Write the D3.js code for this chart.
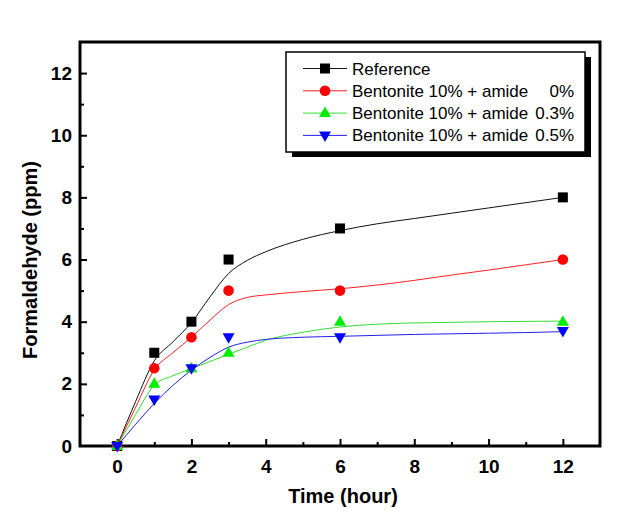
<!DOCTYPE html>
<html><head><meta charset="utf-8">
<script src="https://cdn.jsdelivr.net/npm/d3@7"></script>
<style>body{margin:0;background:#fff}svg{display:block}</style>
</head><body>
<svg id="c" width="636" height="525"></svg>
<script>
// ---- data ----
const times = [0, 1, 2, 3, 6, 12];
const seriesNames = ["Reference", "Bentonite 10% + amide", "Bentonite 10% + amide", "Bentonite 10% + amide"];
const seriesAmounts = ["", "0%", "0.3%", "0.5%"];
const referenceVals = [0, 3, 4, 6, 7, 8];
const amide0Vals = [0, 2.5, 3.5, 5, 5, 6];
const amide03Vals = [0, 2, 2.5, 3, 4, 4];
const amide05Vals = [0, 1.5, 2.5, 3.5, 3.5, 3.7];
// fitted curves
const fitX = [0, 0.5, 1, 1.5, 2, 2.5, 3, 3.5, 4, 5, 6, 7, 8, 9, 10, 11, 12];
const referenceFit = [0, 1.44, 2.74, 3.35, 3.97, 4.8, 5.55, 5.97, 6.25, 6.65, 6.93, 7.15, 7.32, 7.49, 7.66, 7.83, 8.0];
const amide0Fit = [0, 1.25, 2.45, 3.0, 3.5, 4.05, 4.55, 4.78, 4.86, 4.97, 5.06, 5.18, 5.33, 5.5, 5.66, 5.83, 6.0];
const amide03Fit = [0, 1.02, 1.96, 2.26, 2.49, 2.72, 2.95, 3.18, 3.4, 3.66, 3.83, 3.92, 3.96, 3.98, 4.0, 4.01, 4.02];
const amide05Fit = [0, 0.7, 1.37, 1.95, 2.44, 2.85, 3.18, 3.34, 3.43, 3.5, 3.53, 3.56, 3.59, 3.61, 3.63, 3.65, 3.68];
const xTicks = [0, 2, 4, 6, 8, 10, 12];
const yTicks = [0, 2, 4, 6, 8, 10, 12];

const colors = ["#000000", "#ff0000", "#00ee00", "#0000ff"];
const lineColors = ["#111111", "#ff2020", "#33dd33", "#2020ee"];
const shapes = ["square", "circle", "triUp", "triDown"];
const vals = [referenceVals, amide0Vals, amide03Vals, amide05Vals];
const fits = [referenceFit, amide0Fit, amide03Fit, amide05Fit];

const svg = d3.select("#c");
const L = 80, R = 600, T = 42, B = 446;
const x = d3.scaleLinear().domain([-1, 13]).range([L, R]);
const y = d3.scaleLinear().domain([0, 13]).range([B, T]);
const font = "'Liberation Sans', Arial, sans-serif";

// axes (ticks inside)
const xAxis = d3.axisBottom(x).tickValues(d3.range(-1, 14, 1)).tickSize(-7).tickFormat(d => xTicks.includes(d) ? d : "");
const gx = svg.append("g").attr("transform", `translate(0,${B})`).call(xAxis);
gx.selectAll(".tick line").attr("y2", d => xTicks.includes(d) ? -7 : -4).attr("stroke-width", 2);
gx.selectAll(".tick").filter(d => d === -1 || d === 13).remove();
gx.select(".domain").remove();
gx.selectAll("text").attr("y", 14).attr("font-family", font).attr("font-weight", "bold").attr("font-size", 19).attr("fill", "#000");

const yAxis = d3.axisLeft(y).tickValues(d3.range(0, 14, 1)).tickSize(-7).tickFormat(d => yTicks.includes(d) ? d : "");
const gy = svg.append("g").attr("transform", `translate(${L},0)`).call(yAxis);
gy.selectAll(".tick line").attr("x2", d => yTicks.includes(d) ? 7 : 4).attr("stroke-width", 2);
gy.selectAll(".tick").filter(d => d === 0 || d === 13).select("line").remove();
gy.select(".domain").remove();
gy.selectAll("text").attr("x", -8).attr("font-family", font).attr("font-weight", "bold").attr("font-size", 19).attr("fill", "#000");

// frame
svg.append("rect").attr("x", L).attr("y", T).attr("width", R - L).attr("height", B - T)
  .attr("fill", "none").attr("stroke", "#000").attr("stroke-width", 3);

// curves
const line = d3.line().x((d, i) => x(fitX[i])).y(d => y(d)).curve(d3.curveMonotoneX);
fits.forEach((f, k) => {
  svg.append("path").attr("d", line(f)).attr("fill", "none").attr("stroke", lineColors[k]).attr("stroke-width", 1);
});

function marker(g, shape, cx, cy, col) {
  if (shape === "square") g.append("rect").attr("x", cx - 5).attr("y", cy - 5).attr("width", 10).attr("height", 10).attr("fill", col);
  else if (shape === "circle") g.append("circle").attr("cx", cx).attr("cy", cy).attr("r", 5.3).attr("fill", col);
  else if (shape === "triUp") g.append("path").attr("d", `M${cx},${cy - 6.5}L${cx + 6},${cy + 4}L${cx - 6},${cy + 4}Z`).attr("fill", col);
  else g.append("path").attr("d", `M${cx},${cy + 6.5}L${cx + 6},${cy - 4}L${cx - 6},${cy - 4}Z`).attr("fill", col);
}

vals.forEach((v, k) => {
  const g = svg.append("g");
  v.forEach((d, i) => marker(g, shapes[k], x(times[i]), y(d), colors[k]));
});

// legend
const lg = svg.append("g");
lg.append("rect").attr("x", 292).attr("y", 57).attr("width", 299).attr("height", 100).attr("fill", "#000");
lg.append("rect").attr("x", 286).attr("y", 52).attr("width", 299).attr("height", 100).attr("fill", "#fff").attr("stroke", "#000").attr("stroke-width", 1.5);
seriesNames.forEach((nm, k) => {
  const yy = 68.5 + k * 22.3;
  lg.append("line").attr("x1", 303).attr("x2", 347).attr("y1", yy).attr("y2", yy).attr("stroke", lineColors[k]).attr("stroke-width", 1);
  marker(lg, shapes[k], 325, yy, colors[k]);
  lg.append("text").attr("x", 352).attr("y", yy + 6).attr("font-family", font).attr("font-size", 17).text(nm);
  if (seriesAmounts[k]) lg.append("text").attr("x", 574).attr("y", yy + 6).attr("text-anchor", "end").attr("font-family", font).attr("font-size", 17).text(seriesAmounts[k]);
});

// axis titles
svg.append("text").attr("x", 343).attr("y", 503).attr("text-anchor", "middle").attr("font-family", font).attr("font-weight", "bold").attr("font-size", 20).text("Time (hour)");
svg.append("text").attr("transform", "translate(37,260) rotate(-90)").attr("text-anchor", "middle").attr("font-family", font).attr("font-weight", "bold").attr("font-size", 20).text("Formaldehyde (ppm)");
</script>
</body></html>
